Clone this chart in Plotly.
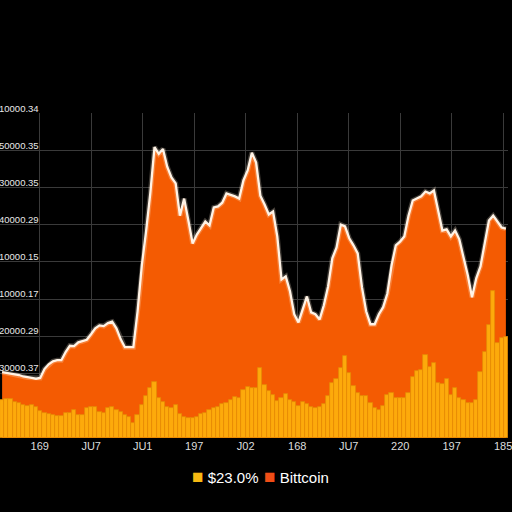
import plotly.graph_objects as go

# bitcoin price (area) and volume (bars), in grid units
price = [
    1.78, 1.76, 1.75, 1.73, 1.70, 1.66, 1.63, 1.62, 1.60, 1.62,
    1.86, 1.99, 2.07, 2.10, 2.10, 2.32, 2.49, 2.48, 2.58, 2.61,
    2.65, 2.80, 2.96, 3.04, 3.02, 3.10, 3.14, 2.96, 2.67, 2.45,
    2.45, 2.45, 3.42, 4.66, 5.57, 6.60, 7.85, 7.67, 7.80, 7.32,
    7.03, 6.87, 6.00, 6.46, 5.87, 5.25, 5.49, 5.65, 5.84, 5.74,
    6.22, 6.25, 6.35, 6.60, 6.57, 6.52, 6.46, 6.95, 7.22, 7.70,
    7.43, 6.54, 6.30, 6.03, 6.11, 5.44, 4.28, 4.36, 3.96, 3.34,
    3.12, 3.50, 3.82, 3.39, 3.34, 3.20, 3.58, 4.09, 4.85, 5.14,
    5.76, 5.71, 5.39, 5.20, 4.98, 4.07, 3.42, 3.07, 3.07, 3.34,
    3.53, 3.90, 4.66, 5.20, 5.30, 5.44, 6.00, 6.41, 6.46, 6.52,
    6.65, 6.60, 6.68, 6.14, 5.60, 5.63, 5.44, 5.60, 5.36, 4.87,
    4.39, 3.80, 4.31, 4.63, 5.20, 5.87, 6.00, 5.84, 5.68, 5.65,
]

volume = [
    1.02, 1.05, 1.05, 0.97, 0.94, 0.89, 0.86, 0.89, 0.83, 0.73,
    0.67, 0.65, 0.62, 0.59, 0.59, 0.67, 0.67, 0.75, 0.62, 0.62,
    0.81, 0.83, 0.83, 0.70, 0.67, 0.81, 0.83, 0.75, 0.70, 0.62,
    0.57, 0.40, 0.62, 0.89, 1.13, 1.35, 1.51, 1.08, 0.97, 0.83,
    0.81, 0.89, 0.65, 0.57, 0.54, 0.54, 0.57, 0.65, 0.67, 0.75,
    0.81, 0.83, 0.92, 0.94, 1.02, 1.10, 1.08, 1.29, 1.37, 1.35,
    1.35, 1.88, 1.43, 1.27, 1.16, 1.00, 1.08, 1.18, 1.02, 0.97,
    0.86, 0.97, 0.92, 0.83, 0.81, 0.83, 0.92, 1.13, 1.48, 1.59,
    1.88, 2.21, 1.75, 1.40, 1.21, 1.13, 1.13, 0.94, 0.81, 0.75,
    0.86, 1.16, 1.21, 1.08, 1.08, 1.08, 1.21, 1.64, 1.80, 1.83,
    2.23, 1.91, 2.02, 1.48, 1.45, 1.59, 1.16, 1.35, 1.08, 1.02,
    0.94, 0.94, 1.02, 1.78, 2.32, 3.04, 3.98, 2.56, 2.69, 2.72,
]

x_tick_pos = [8.88, 21.04, 33.20, 45.37, 57.53, 69.70, 81.86, 94.03, 106.19, 118.35]
x_tick_text = ["169", "JU7", "JU1", "197", "J02", "168", "JU7", "220", "197", "185"]

y_tick_pos = [1.75, 2.75, 3.75, 4.75, 5.75, 6.75, 7.75, 8.75]
y_tick_text = ["30000.37", "20000.29", "10000.17", "10000.15",
               "40000.29", "30000.35", "50000.35", "10000.34"]

legend_names = ["$23.0%", "Bittcoin"]
legend_colors = ["#F6B912", "#F04D16"]
legend_left_px = [191, 264]

AREA = "#F45B02"
BAR = "#FDAA0B"
x = list(range(len(price)))
xr = [-0.5, len(price) - 0.5]
yr = [0, 8.77]

fig = go.Figure()

# area fill
fig.add_trace(go.Scatter(x=x, y=price, mode="lines", fill="tozeroy",
                         fillcolor=AREA, line=dict(width=0, color=AREA),
                         name="Bittcoin", hoverinfo="skip"))
# soft glow + white outline
fig.add_trace(go.Scatter(x=x, y=price, mode="lines",
                         line=dict(width=5, color="rgba(255,235,210,0.25)"),
                         hoverinfo="skip"))
fig.add_trace(go.Scatter(x=x, y=price, mode="lines",
                         line=dict(width=2.3, color="#FFF3E6")))

# volume bars on an overlay so they sit in front of the area
fig.add_trace(go.Bar(x=x, y=volume, name="$23.0%", xaxis="x2", yaxis="y2",
                     marker=dict(color=BAR, line=dict(color="#E58A05", width=0.8))))

annotations = [
    dict(x=41 / 512, xref="paper", y=v, yref="y", text=t, showarrow=False,
         xanchor="right", yanchor="bottom", yshift=-2,
         font=dict(size=9.5, color="#E8E8E8", family="Liberation Sans"))
    for v, t in zip(y_tick_pos, y_tick_text)
]

# legend keys: coloured square + name
for name, col, px in zip(legend_names, legend_colors, legend_left_px):
    annotations.append(dict(
        x=px / 512, xref="paper", y=-0.117, yref="paper",
        text="<span style='color:%s;font-size:19px'>■</span> %s" % (col, name),
        showarrow=False, xanchor="left", yanchor="middle",
        font=dict(size=15, color="white", family="Liberation Sans")))

fig.update_layout(
    width=512, height=512,
    margin=dict(l=0, r=0, t=113, b=74),
    paper_bgcolor="black", plot_bgcolor="black",
    bargap=0, barmode="overlay", showlegend=False,
    font=dict(family="Liberation Sans", color="#DDDDDD"),
    xaxis=dict(range=xr, tickvals=x_tick_pos, ticktext=x_tick_text,
               showgrid=True, gridcolor="#3A3A3A", gridwidth=1,
               zeroline=False, showline=False, ticks="",
               ticklabeloverflow="allow",
               tickfont=dict(size=11, color="#DDDDDD")),
    yaxis=dict(range=yr, tickvals=y_tick_pos, showticklabels=False,
               showgrid=True, gridcolor="#3A3A3A", gridwidth=1,
               zeroline=False, showline=False),
    xaxis2=dict(range=xr, overlaying="x", visible=False),
    yaxis2=dict(range=yr, overlaying="y", visible=False),
    annotations=annotations,
)

fig.write_html("out.html", config={"displayModeBar": False},
               post_script="document.body.style.margin='0px';")
